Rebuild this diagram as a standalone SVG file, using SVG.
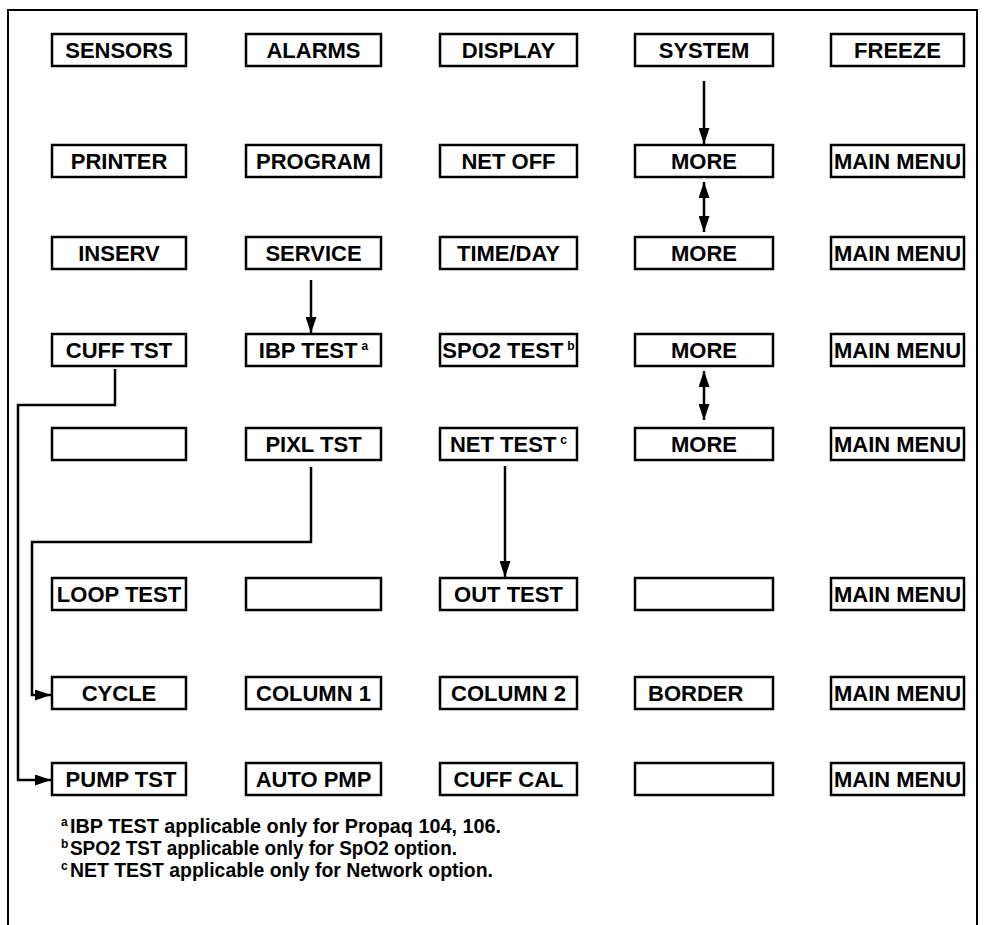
<svg xmlns="http://www.w3.org/2000/svg" width="984" height="925" viewBox="0 0 984 925">
<style>
.box{fill:#fff;stroke:#000;stroke-width:2.5}
.lbl{font-family:"Liberation Sans",Arial,Helvetica,sans-serif;font-weight:bold;font-size:22px;fill:#000;text-anchor:middle}
.sup{font-size:12px}
.fn{font-family:"Liberation Sans",Arial,Helvetica,sans-serif;font-weight:bold;font-size:19.5px;fill:#000}
.fns{font-family:"Liberation Sans",Arial,Helvetica,sans-serif;font-weight:bold;font-size:12px;fill:#000}
.con{fill:none;stroke:#000;stroke-width:2.5}
.frame{fill:none;stroke:#000;stroke-width:2}
</style>
<defs>
<marker id="ah" markerUnits="userSpaceOnUse" markerWidth="16" markerHeight="11" refX="16" refY="5.5" orient="auto-start-reverse">
<path d="M0,0 L16,5.5 L0,11 z" fill="#000"/>
</marker>
</defs>
<rect width="984" height="925" fill="#fff"/>
<path class="frame" d="M8,925 V10 H977 V925"/>

<g id="sensors"><rect class="box" x="52" y="34" width="134" height="32"/><text class="lbl" x="119" y="58">SENSORS</text></g>
<g id="alarms"><rect class="box" x="246" y="34" width="135" height="32"/><text class="lbl" x="313.5" y="58">ALARMS</text></g>
<g id="display"><rect class="box" x="440" y="34" width="137" height="32"/><text class="lbl" x="508.5" y="58">DISPLAY</text></g>
<g id="system"><rect class="box" x="635" y="34" width="138" height="32"/><text class="lbl" x="704" y="58">SYSTEM</text></g>
<g id="freeze"><rect class="box" x="831" y="34" width="133" height="32"/><text class="lbl" x="897.5" y="58">FREEZE</text></g>

<g id="printer"><rect class="box" x="52" y="145" width="134" height="32"/><text class="lbl" x="119" y="169">PRINTER</text></g>
<g id="program"><rect class="box" x="246" y="145" width="135" height="32"/><text class="lbl" x="313.5" y="169">PROGRAM</text></g>
<g id="netoff"><rect class="box" x="440" y="145" width="137" height="32"/><text class="lbl" x="508.5" y="169">NET OFF</text></g>
<g id="more1"><rect class="box" x="635" y="145" width="138" height="32"/><text class="lbl" x="704" y="169">MORE</text></g>
<g id="mainmenu1"><rect class="box" x="831" y="145" width="133" height="32"/><text class="lbl" x="897.5" y="169">MAIN MENU</text></g>

<g id="inserv"><rect class="box" x="52" y="237" width="134" height="32"/><text class="lbl" x="119" y="261">INSERV</text></g>
<g id="service"><rect class="box" x="246" y="237" width="135" height="32"/><text class="lbl" x="313.5" y="261">SERVICE</text></g>
<g id="timeday"><rect class="box" x="440" y="237" width="137" height="32"/><text class="lbl" x="508.5" y="261">TIME/DAY</text></g>
<g id="more2"><rect class="box" x="635" y="237" width="138" height="32"/><text class="lbl" x="704" y="261">MORE</text></g>
<g id="mainmenu2"><rect class="box" x="831" y="237" width="133" height="32"/><text class="lbl" x="897.5" y="261">MAIN MENU</text></g>

<g id="cufftst"><rect class="box" x="52" y="334" width="134" height="32"/><text class="lbl" x="119" y="358">CUFF TST</text></g>
<g id="ibptest"><rect class="box" x="246" y="334" width="135" height="32"/><text class="lbl" x="313.5" y="358">IBP TEST<tspan class="sup" dx="4" dy="-8">a</tspan></text></g>
<g id="spo2test"><rect class="box" x="440" y="334" width="137" height="32"/><text class="lbl" x="508.5" y="358">SPO2 TEST<tspan class="sup" dx="4" dy="-8">b</tspan></text></g>
<g id="more3"><rect class="box" x="635" y="334" width="138" height="32"/><text class="lbl" x="704" y="358">MORE</text></g>
<g id="mainmenu3"><rect class="box" x="831" y="334" width="133" height="32"/><text class="lbl" x="897.5" y="358">MAIN MENU</text></g>

<g id="blank1"><rect class="box" x="52" y="428" width="134" height="32"/></g>
<g id="pixltst"><rect class="box" x="246" y="428" width="135" height="32"/><text class="lbl" x="313.5" y="452">PIXL TST</text></g>
<g id="nettest"><rect class="box" x="440" y="428" width="137" height="32"/><text class="lbl" x="508.5" y="452">NET TEST<tspan class="sup" dx="4" dy="-8">c</tspan></text></g>
<g id="more4"><rect class="box" x="635" y="428" width="138" height="32"/><text class="lbl" x="704" y="452">MORE</text></g>
<g id="mainmenu4"><rect class="box" x="831" y="428" width="133" height="32"/><text class="lbl" x="897.5" y="452">MAIN MENU</text></g>

<g id="looptest"><rect class="box" x="52" y="578" width="134" height="32"/><text class="lbl" x="119" y="602">LOOP TEST</text></g>
<g id="blank2"><rect class="box" x="246" y="578" width="135" height="32"/></g>
<g id="outtest"><rect class="box" x="440" y="578" width="137" height="32"/><text class="lbl" x="508.5" y="602">OUT TEST</text></g>
<g id="blank3"><rect class="box" x="635" y="578" width="138" height="32"/></g>
<g id="mainmenu5"><rect class="box" x="831" y="578" width="133" height="32"/><text class="lbl" x="897.5" y="602">MAIN MENU</text></g>

<g id="cycle"><rect class="box" x="52" y="677" width="134" height="32"/><text class="lbl" x="119" y="701">CYCLE</text></g>
<g id="column1"><rect class="box" x="246" y="677" width="135" height="32"/><text class="lbl" x="313.5" y="701">COLUMN 1</text></g>
<g id="column2"><rect class="box" x="440" y="677" width="137" height="32"/><text class="lbl" x="508.5" y="701">COLUMN 2</text></g>
<g id="border"><rect class="box" x="635" y="677" width="138" height="32"/><text class="lbl" x="648" y="701" style="text-anchor:start">BORDER</text></g>
<g id="mainmenu6"><rect class="box" x="831" y="677" width="133" height="32"/><text class="lbl" x="897.5" y="701">MAIN MENU</text></g>

<g id="pumptst"><rect class="box" x="52" y="763" width="134" height="32"/><text class="lbl" x="121" y="787">PUMP TST</text></g>
<g id="autopmp"><rect class="box" x="246" y="763" width="135" height="32"/><text class="lbl" x="313.5" y="787">AUTO PMP</text></g>
<g id="cuffcal"><rect class="box" x="440" y="763" width="137" height="32"/><text class="lbl" x="508.5" y="787">CUFF CAL</text></g>
<g id="blank4"><rect class="box" x="635" y="763" width="138" height="32"/></g>
<g id="mainmenu7"><rect class="box" x="831" y="763" width="133" height="32"/><text class="lbl" x="897.5" y="787">MAIN MENU</text></g>

<g id="connectors">
<path class="con" d="M704,81 V144" marker-end="url(#ah)"/>
<path class="con" d="M704,182 V232" marker-start="url(#ah)" marker-end="url(#ah)"/>
<path class="con" d="M704,371 V420" marker-start="url(#ah)" marker-end="url(#ah)"/>
<path class="con" d="M311,280 V333" marker-end="url(#ah)"/>
<path class="con" d="M505,466 V577" marker-end="url(#ah)"/>
<path class="con" d="M115,369 V405 H18 V780 H51" marker-end="url(#ah)"/>
<path class="con" d="M311,467 V542 H32 V695 H51" marker-end="url(#ah)"/>
</g>

<g id="footnotes">
<text class="fns" x="61" y="826">a</text>
<text class="fn" x="70" y="833" textLength="431" lengthAdjust="spacingAndGlyphs">IBP TEST applicable only for Propaq 104, 106.</text>
<text class="fns" x="61" y="848">b</text>
<text class="fn" x="70" y="855" textLength="387" lengthAdjust="spacingAndGlyphs">SPO2 TST applicable only for SpO2 option.</text>
<text class="fns" x="61" y="870">c</text>
<text class="fn" x="70" y="877" textLength="423" lengthAdjust="spacingAndGlyphs">NET TEST applicable only for Network option.</text>
</g>
</svg>
